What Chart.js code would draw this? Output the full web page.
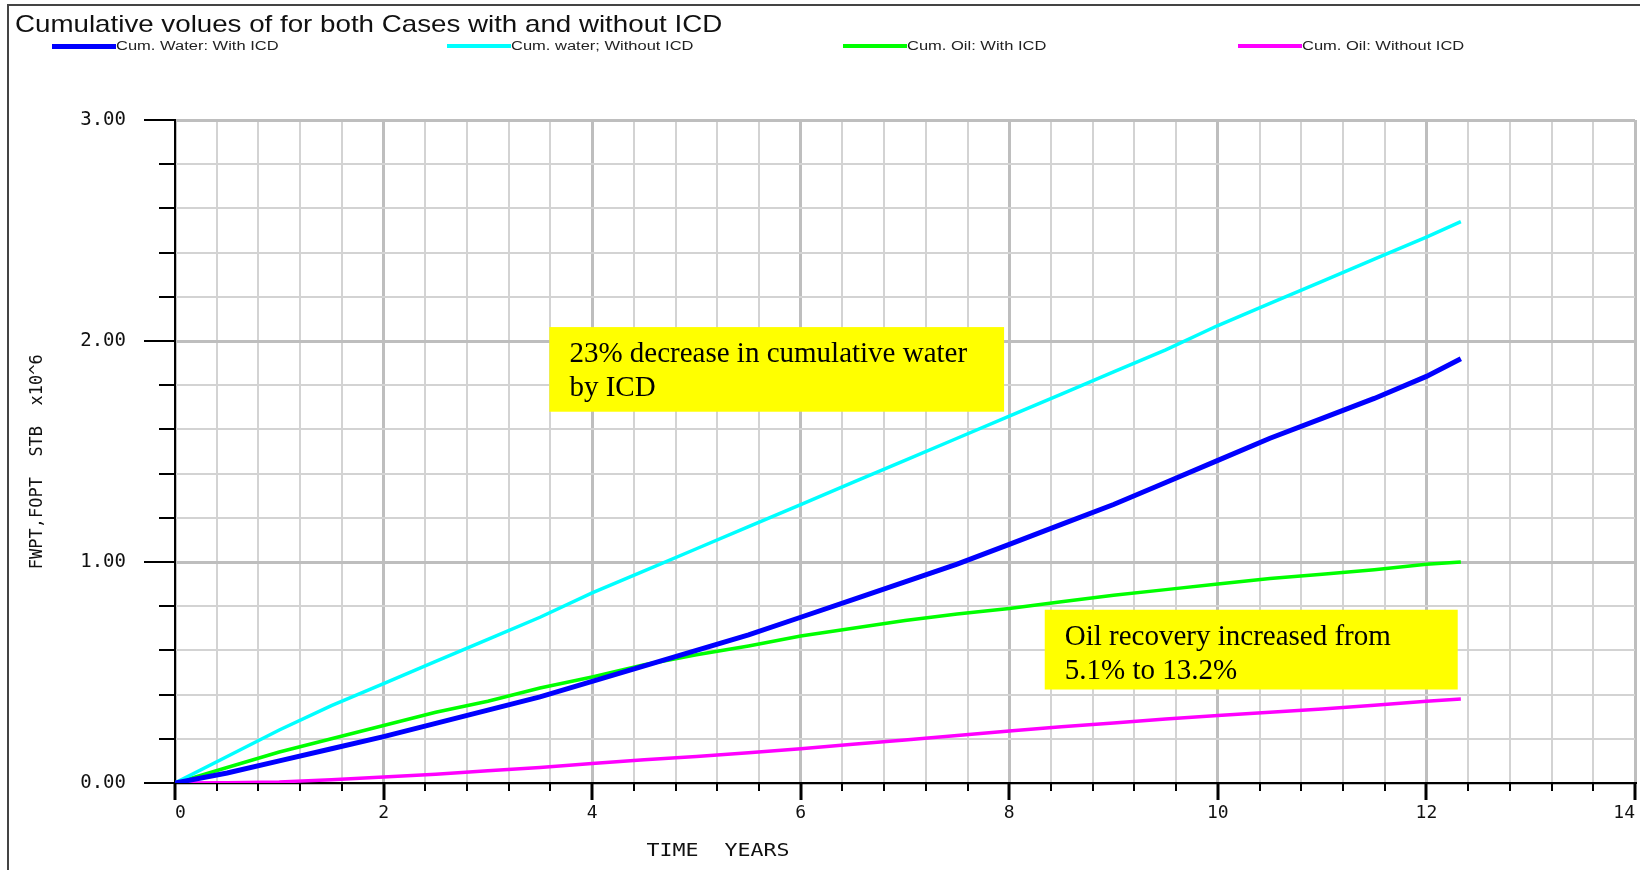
<!DOCTYPE html>
<html>
<head>
<meta charset="utf-8">
<script src="https://cdn.jsdelivr.net/npm/chart.js@4.4.1/dist/chart.umd.min.js"></script>
<style>
  html, body { margin: 0; padding: 0; background: #fff; }
  #wrap { position: relative; width: 1640px; height: 870px; overflow: hidden; }
  #frame { position: absolute; left: 7px; top: 4px; right: -6px; bottom: -6px; border-left: 2px solid #444; border-top: 2px solid #444; pointer-events: none; }
  #title { position: absolute; left: 15px; top: 12px; font: 24px/24px "Liberation Sans", Arial, sans-serif; color: #111; transform: scaleX(1.155); transform-origin: left top; white-space: nowrap; }
  .leg { position: absolute; top: 38px; height: 16px; display: flex; align-items: center; }
  .leg i { display: block; width: 64px; }
  .leg span { display: block; font: 12.5px "Liberation Sans", Arial, sans-serif; color: #222; transform: scaleX(1.32); transform-origin: left center; white-space: nowrap; }
  canvas { position: absolute; left: 0; top: 0; }
</style>
</head>
<body>
<div id="wrap">
  <canvas id="chart" width="1640" height="870"></canvas>
  <div id="title">Cumulative volues of for both Cases with and without ICD</div>
  <div id="legend"></div>
  <div id="frame"></div>
</div>
<script>
// time axis (years) and cumulative volumes (x10^6 STB)
const years = [0, 0.5, 1, 1.5, 2, 2.5, 3, 3.5, 4, 4.5, 5, 5.5, 6, 6.5, 7, 7.5, 8, 8.5, 9, 9.5, 10, 10.5, 11, 11.5, 12, 12.33];
const waterWithICD    = [0, 0.045, 0.10, 0.155, 0.21, 0.27, 0.33, 0.39, 0.46, 0.53, 0.60, 0.67, 0.75, 0.83, 0.91, 0.99, 1.08, 1.17, 1.26, 1.36, 1.46, 1.56, 1.65, 1.74, 1.84, 1.92];
const waterWithoutICD = [0, 0.12, 0.24, 0.35, 0.45, 0.55, 0.65, 0.75, 0.86, 0.96, 1.06, 1.16, 1.26, 1.36, 1.46, 1.56, 1.66, 1.76, 1.86, 1.96, 2.07, 2.17, 2.27, 2.37, 2.47, 2.54];
const oilWithICD      = [0, 0.07, 0.14, 0.20, 0.26, 0.32, 0.37, 0.43, 0.48, 0.535, 0.58, 0.62, 0.665, 0.70, 0.735, 0.765, 0.79, 0.82, 0.85, 0.875, 0.90, 0.925, 0.945, 0.965, 0.99, 1.0];
const oilWithoutICD   = [0, 0.001, 0.005, 0.015, 0.027, 0.04, 0.055, 0.07, 0.088, 0.105, 0.12, 0.137, 0.155, 0.175, 0.195, 0.215, 0.235, 0.255, 0.272, 0.29, 0.305, 0.32, 0.335, 0.352, 0.37, 0.38];

const seriesLabels = ['Cum. Water: With ICD', 'Cum. water;  Without ICD', 'Cum. Oil: With ICD', 'Cum. Oil: Without ICD'];
const xTickStep = 0.4;
const yTickStep = 0.2;

const notes = [
  { x0: 3.59, x1: 7.95, y0: 1.68, y1: 2.063, lines: ['23% decrease in cumulative water', 'by ICD'] },
  { x0: 8.34, x1: 12.30, y0: 0.423, y1: 0.784, lines: ['Oil recovery increased from', '5.1% to 13.2%'] },
];

const near = (v, step) => Math.abs(v / step - Math.round(v / step)) < 1e-6;
const mono = '"DejaVu Sans Mono", monospace';

const pts = (vals) => years.map((t, i) => ({ x: t, y: vals[i] }));

const extras = {
  id: 'extras',
  afterDatasetsDraw(chart) {
    const { ctx, scales: { x, y } } = chart;
    ctx.save();
    notes.forEach(n => {
      const l = x.getPixelForValue(n.x0), r = x.getPixelForValue(n.x1);
      const t = y.getPixelForValue(n.y1), b = y.getPixelForValue(n.y0);
      ctx.fillStyle = '#ffff00';
      ctx.fillRect(l, t, r - l, b - t);
      ctx.fillStyle = '#000';
      ctx.font = '29px "Liberation Serif", "Times New Roman", serif';
      ctx.textBaseline = 'alphabetic';
      n.lines.forEach((s, i) => ctx.fillText(s, l + 20, t + 35 + i * 34));
    });
    ctx.restore();
  },
  afterDraw(chart) {
    const { ctx, chartArea: a, scales: { x, y } } = chart;
    ctx.save();
    ctx.strokeStyle = '#000';
    ctx.lineWidth = 2;
    y.ticks.forEach(tk => {
      const py = Math.round(y.getPixelForValue(tk.value));
      const len = near(tk.value, 1) ? 31 : 16;
      ctx.beginPath(); ctx.moveTo(a.left - len, py); ctx.lineTo(a.left, py); ctx.stroke();
    });
    x.ticks.forEach(tk => {
      const px = Math.round(x.getPixelForValue(tk.value));
      const len = near(tk.value, 2) ? 17 : 8;
      ctx.lineWidth = near(tk.value, 2) ? 3 : 2;
      ctx.beginPath(); ctx.moveTo(px, a.bottom); ctx.lineTo(px, a.bottom + len); ctx.stroke();
    });
    // x axis title
    ctx.fillStyle = '#111';
    ctx.font = '18px ' + mono;
    ctx.textAlign = 'center';
    ctx.textBaseline = 'middle';
    ctx.translate(718, 851);
    ctx.scale(1.2, 1);
    ctx.fillText('TIME  YEARS', 0, 0);
    ctx.restore();
  }
};

const gridColor = (step) => (c) => near(c.tick.value, step) ? '#bebebe' : '#d3d3d3';
const gridWidth = (step) => (c) => near(c.tick.value, step) ? 3 : 2;

const chart = new Chart(document.getElementById('chart'), {
  type: 'line',
  data: {
    datasets: [
      { label: seriesLabels[0], data: pts(waterWithICD), borderColor: '#0000ff', borderWidth: 5 },
      { label: seriesLabels[1], data: pts(waterWithoutICD), borderColor: '#00ffff', borderWidth: 3.5 },
      { label: seriesLabels[2], data: pts(oilWithICD), borderColor: '#00ff00', borderWidth: 3.5 },
      { label: seriesLabels[3], data: pts(oilWithoutICD), borderColor: '#ff00ff', borderWidth: 3.5 },
    ],
  },
  options: {
    responsive: false,
    animation: false,
    devicePixelRatio: 1,
    elements: { point: { radius: 0 }, line: { tension: 0 } },
    layout: { padding: { top: 120, right: 5, left: 0, bottom: 0 } },
    plugins: { legend: { display: false }, tooltip: { enabled: false } },
    scales: {
      x: {
        type: 'linear', min: 0, max: 14,
        grid: { drawTicks: false, color: gridColor(2), lineWidth: gridWidth(2) },
        border: { color: '#000', width: 2 },
        ticks: {
          stepSize: xTickStep, autoSkip: false, maxRotation: 0, align: 'inner', padding: 20,
          color: '#111', font: { family: mono, size: 18 },
          callback: (v) => near(v, 2) ? String(Math.round(v)) : '',
        },
        afterFit: (s) => { s.height = 87; s.paddingLeft = 0; s.paddingRight = 0; },
      },
      y: {
        min: 0, max: 3,
        grid: { drawTicks: false, color: gridColor(1), lineWidth: gridWidth(1) },
        border: { color: '#000', width: 2 },
        ticks: {
          stepSize: yTickStep, autoSkip: false, padding: 49,
          color: '#111', font: { family: mono, size: 19 },
          callback: (v) => near(v, 1) ? v.toFixed(2) : '',
        },
        title: {
          display: true, text: 'FWPT,FOPT  STB  x10^6  ', color: '#111',
          font: { family: mono, size: 17 }, padding: { top: 27, bottom: 0 },
        },
        afterFit: (s) => { s.width = 175; },
      },
    },
  },
  plugins: [extras],
});

// legend row built from the datasets
const legend = document.getElementById('legend');
chart.data.datasets.forEach((ds, i) => {
  const item = document.createElement('div');
  item.className = 'leg';
  item.style.left = (52 + i * 395.3) + 'px';
  const sw = document.createElement('i');
  sw.style.height = (i === 0 ? 5 : 4) + 'px';
  sw.style.background = ds.borderColor;
  const txt = document.createElement('span');
  txt.textContent = ds.label;
  item.append(sw, txt);
  legend.appendChild(item);
});
</script>
</body>
</html>
